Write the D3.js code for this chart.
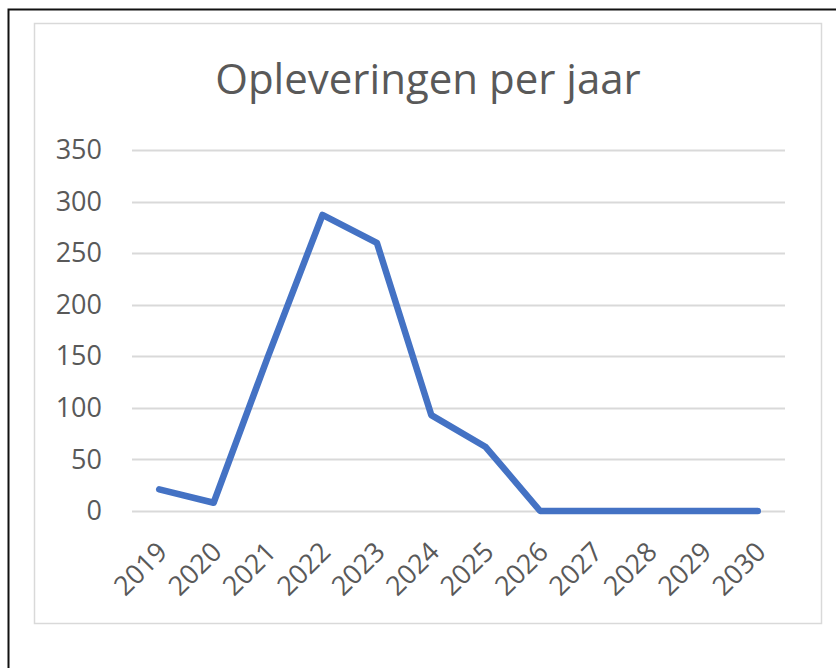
<!DOCTYPE html>
<html>
<head>
<meta charset="utf-8">
<script src="https://cdn.jsdelivr.net/npm/d3@7"></script>
<style>
    body { margin: 0; background: #fff; }
    text { font-family: "Open Sans", sans-serif; fill: #595959; }
</style>
</head>
<body>
<svg id="chart" width="836" height="668"></svg>
<script>
// opleveringen per jaar
var years = ['2019', '2020', '2021', '2022', '2023', '2024', '2025', '2026', '2027', '2028', '2029', '2030'];
var opleveringen = [21, 8, 150, 287, 260, 93, 62, 0, 0, 0, 0, 0];
var yTicks = [0, 50, 100, 150, 200, 250, 300, 350];
var title = 'Opleveringen per jaar';

var svg = d3.select('#chart');

// outer black frame
svg.append('rect')
    .attr('x', 8.5).attr('y', 9.5)
    .attr('width', 840).attr('height', 680)
    .attr('fill', 'none')
    .attr('stroke', '#111')
    .attr('stroke-width', 2);

// chart area border
svg.append('rect')
    .attr('x', 34.5).attr('y', 23.5)
    .attr('width', 787).attr('height', 600)
    .attr('fill', '#fff')
    .attr('stroke', '#d9d9d9')
    .attr('stroke-width', 1.5);

var x = d3.scaleBand().domain(years).range([132, 785]);
var y = d3.scaleLinear().domain([0, 350]).range([511, 150]);

svg.append('text')
    .attr('x', 428).attr('y', 94)
    .attr('text-anchor', 'middle')
    .attr('font-size', 42)
    .text(title);

var grid = svg.append('g').attr('class', 'grid');
grid.selectAll('line')
    .data(yTicks)
    .enter().append('line')
    .attr('x1', 132).attr('x2', 785)
    .attr('y1', function(d) { return Math.round(y(d)) + 0.5; })
    .attr('y2', function(d) { return Math.round(y(d)) + 0.5; })
    .attr('stroke', '#d9d9d9')
    .attr('stroke-width', 2);

var yAxis = svg.append('g')
    .attr('transform', 'translate(102,0)')
    .call(d3.axisLeft(y).tickValues(yTicks).tickSize(0).tickPadding(0));
yAxis.select('.domain').remove();
yAxis.selectAll('text')
    .attr('font-size', 27)
    .attr('fill', '#595959')
    .attr('font-family', '"Open Sans", sans-serif');

var xAxis = svg.append('g')
    .attr('transform', 'translate(0,511)')
    .call(d3.axisBottom(x).tickSize(0).tickPadding(0));
xAxis.select('.domain').remove();
xAxis.selectAll('text')
    .attr('font-size', 27)
    .attr('fill', '#595959')
    .attr('font-family', '"Open Sans", sans-serif')
    .attr('text-anchor', 'end')
    .attr('dy', '0.35em')
    .attr('transform', 'translate(3,36) rotate(-45)');

var line = d3.line()
    .x(function(d, i) { return x(years[i]) + x.bandwidth() / 2; })
    .y(function(d) { return y(d); });

svg.append('path')
    .datum(opleveringen)
    .attr('d', line)
    .attr('fill', 'none')
    .attr('stroke', '#4472c4')
    .attr('stroke-width', 6.5)
    .attr('stroke-linejoin', 'round')
    .attr('stroke-linecap', 'round');
</script>
</body>
</html>
